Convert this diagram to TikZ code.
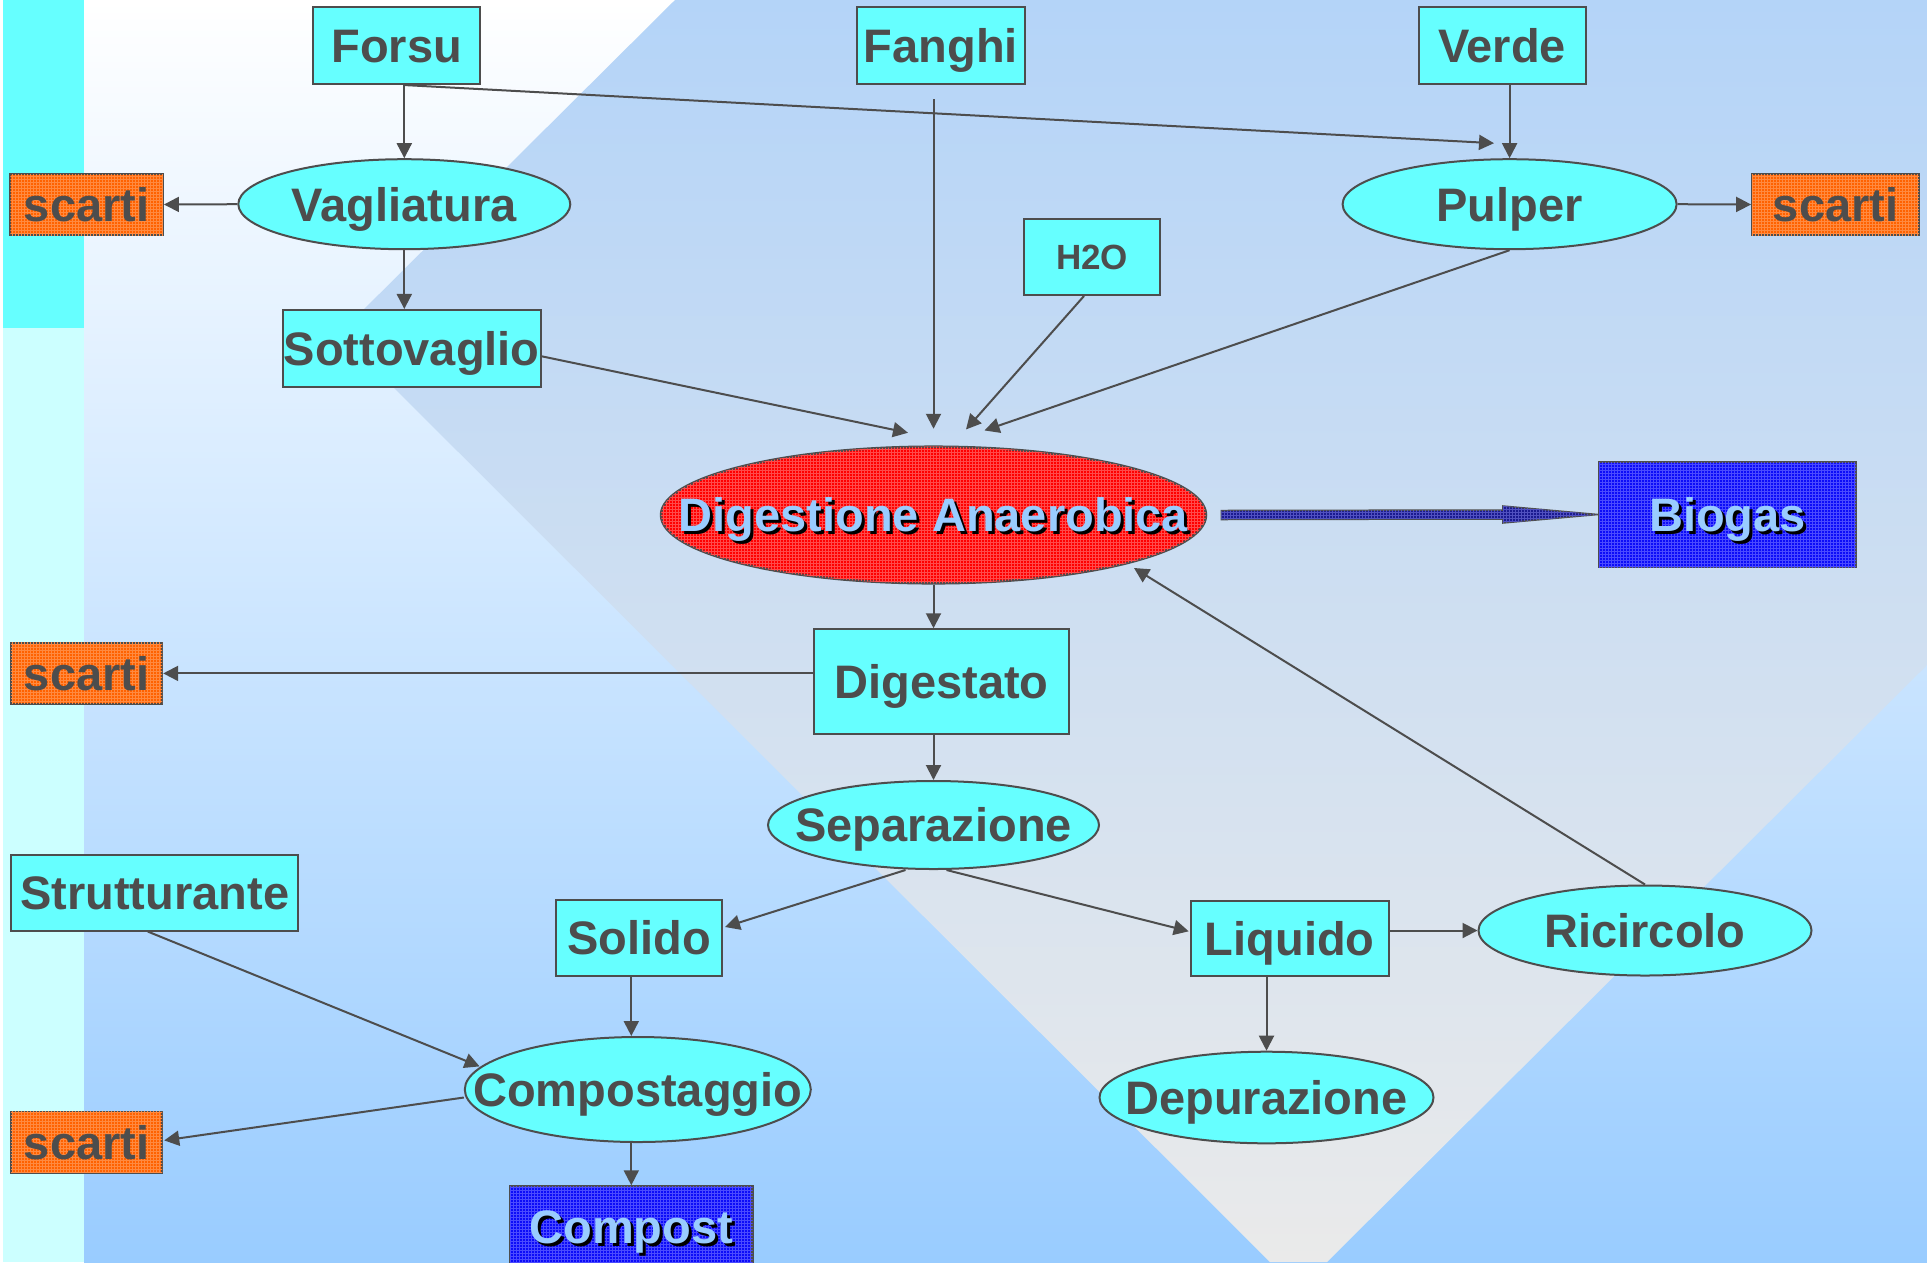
\documentclass[tikz,border=0pt]{standalone}
\usepackage{fontspec}
\setmainfont{Liberation Sans}
\usetikzlibrary{arrows.meta,shapes.geometric,calc,patterns}

\definecolor{ink}{HTML}{4D4D4D}
\definecolor{aqua}{HTML}{66FFFF}
\definecolor{paleaqua}{HTML}{CCFFFF}
\definecolor{skyblue}{HTML}{99CCFF}
\definecolor{bandtop}{HTML}{B4D4F8}
\definecolor{bandbot}{HTML}{EAEAEA}
\definecolor{wasteorange}{HTML}{FF6200}
\definecolor{wastegrain}{HTML}{FF8A40}
\definecolor{digred}{HTML}{FF0000}
\definecolor{redgrain}{HTML}{FF4A4A}
\definecolor{prodblue}{HTML}{0C0CF8}
\definecolor{bluegrain}{HTML}{4A4AFF}
\definecolor{shaftblue}{HTML}{1A1A90}
\definecolor{shaftgrain}{HTML}{5050C0}
\definecolor{labelblue}{HTML}{99CCFF}

% zero-width label so the text never enlarges its shape
\newcommand{\lbl}[1]{\makebox[0pt]{#1}}
% light label with a dark drop shadow
\newcommand{\glow}[1]{\makebox[0pt]{\makebox[0pt][l]{\hspace{3pt}\raisebox{-3pt}{\color{black}#1}}\color{labelblue}#1}}

\tikzset{
  base/.style={draw=ink, line width=2pt, inner sep=0pt, text=ink,
    font=\fontsize{47}{56}\selectfont\bfseries, text height=33.7pt, text depth=0pt},
  box/.style={base, rectangle, fill=aqua},
  oval/.style={base, ellipse, fill=aqua},
  grain/.style={postaction={pattern=grid, pattern color=#1}},
  waste/.style={base, rectangle, fill=wasteorange, grain=wastegrain, minimum height=61pt},
  product/.style={base, rectangle, fill=prodblue, grain=bluegrain, line width=2.5pt},
  flow/.style={draw=ink, line width=2pt, -{Triangle[length=15pt,width=15pt]}},
}

\begin{document}
\begin{tikzpicture}[x=1pt, y=-1pt]
\useasboundingbox (0,0) rectangle (1927,1262);

% ---- background ----
\fill[white] (0,0) rectangle (1927,1262);
\shade[top color=white, bottom color=skyblue] (84,0) rectangle (1927,1262);
\shade[top color=bandtop, bottom color=bandbot]
  (675,0) -- (1927,0) -- (1927,665) -- (1327,1262) -- (1270,1262) -- (339.5,333.5) -- cycle;
\fill[aqua] (3,0) rectangle (84,328);
\fill[paleaqua] (3,328) rectangle (84,1262);

% ---- inputs ----
\node[box, minimum width=166.5pt, minimum height=76.7pt] (forsu)  at (396.6,45.7) {\lbl{Forsu}};
\node[box, minimum width=168pt,   minimum height=76.7pt] (fanghi) at (941,45.7)   {\lbl{Fanghi}};
\node[box, minimum width=167pt,   minimum height=76.7pt] (verde)  at (1502,45.7)  {\lbl{Verde}};
\node[box, minimum width=136pt, minimum height=76pt,
      font=\fontsize{35}{42}\selectfont\bfseries, text height=25.1pt] (h2o) at (1092,257) {\lbl{H2O}};

% ---- pre-treatment ----
\node[oval, minimum width=332pt, minimum height=90pt] (vagl)   at (404.3,204.2)  {\lbl{Vagliatura}};
\node[oval, minimum width=334pt, minimum height=90pt] (pulper) at (1509.6,204.2) {\lbl{Pulper}};
\node[waste, minimum width=152.7pt] (s1) at (86.6,204.5)   {\lbl{scarti}};
\node[waste, minimum width=167pt]   (s2) at (1835.6,204.5) {\lbl{scarti}};
\node[box, minimum width=258pt, minimum height=76.7pt] (sotto) at (411.7,348.3) {\lbl{Sottovaglio}};

% ---- digestion ----
\node[base, ellipse, fill=digred, grain=redgrain, line width=2.5pt, minimum width=545pt, minimum height=136.6pt]
  (dig) at (933.5,515) {\glow{Digestione Anaerobica}};
\node[product, minimum width=257pt, minimum height=105pt] (biogas) at (1727.5,514.5) {\glow{Biogas}};
\node[box, minimum width=255.6pt, minimum height=104.5pt] (digestato) at (941.5,681.5) {\lbl{Digestato}};
\node[waste, minimum width=151pt] (s3) at (86.7,673.4) {\lbl{scarti}};
\node[oval, minimum width=331pt, minimum height=88pt] (separ) at (933.5,825) {\lbl{Separazione}};

% ---- solid line ----
\node[box, minimum width=287pt, minimum height=75.5pt] (strutt) at (154.8,892.8) {\lbl{Strutturante}};
\node[box, minimum width=166pt, minimum height=75.5pt] (solido) at (639,938) {\lbl{Solido}};
\node[oval, minimum width=346pt, minimum height=105pt] (compostaggio) at (637.8,1089.5) {\lbl{Compostaggio}};
\node[waste, minimum width=151pt] (s4) at (86.7,1142.4) {\lbl{scarti}};
\node[product, minimum width=242.6pt, minimum height=81pt] (compost) at (631.3,1227) {\glow{Compost}};

% ---- liquid line ----
\node[box, minimum width=198pt, minimum height=75.5pt] (liquido) at (1289.7,938.3) {\lbl{Liquido}};
\node[oval, minimum width=333pt, minimum height=90pt] (ricircolo) at (1645,930.5) {\lbl{Ricircolo}};
\node[oval, minimum width=334pt, minimum height=91.6pt] (depur) at (1266.5,1097.5) {\lbl{Depurazione}};

% ---- arrow ends that stop short of their targets ----
\coordinate (tipFP) at ($(pulper.north)+(-15.6,-15)$);
\coordinate (tipS)  at ($(dig.north)+(-25.5,-12.7)$);
\coordinate (tipH)  at ($(dig.north)+(32.5,-16)$);
\coordinate (tipP)  at ($(dig.north)+(51,-15)$);
\coordinate (tipR)  at ($(dig.center)+(200.5,53)$);
\coordinate (tipSo) at ($(solido.east)+(2,-11)$);
\coordinate (tipL)  at ($(liquido.west)+(-1,-7)$);
\coordinate (tipC)  at ($(compostaggio.center)+(-158.2,-23.1)$);
\coordinate (tipW)  at ($(s4.east)+(1,-2)$);

% ---- connectors ----
\draw[flow] (vagl.north |- forsu.south) -- (vagl.north);
\draw[flow] (vagl.north |- forsu.south) -- (tipFP);
\draw[flow] (vagl.west) -- (s1.east);
\draw[flow] (vagl.south) -- (vagl.south |- sotto.north);
\draw[flow] (pulper.north |- verde.south) -- (pulper.north);
\draw[flow] (pulper.east) -- (s2.west);
\draw[flow, shorten <=14pt, shorten >=16.7pt] (dig.north |- fanghi.south) -- (dig.north);
\draw[flow] ($(h2o.south)+(-8,0)$) -- (tipH);
\draw[flow] (pulper.south) -- (tipP);
\draw[flow] ($(sotto.east)+(0,8)$) -- (tipS);
\draw[flow] (dig.south) -- (dig.south |- digestato.north);
\draw[flow] (digestato.west |- s3.east) -- (s3.east);
\draw[flow] (separ.north |- digestato.south) -- (separ.north);
\draw[flow] ($(separ.south)+(-28,0)$) -- (tipSo);
\draw[flow] ($(separ.south)+(13,0)$) -- (tipL);
\draw[flow] (liquido.east |- ricircolo.west) -- (ricircolo.west);
\draw[flow] (depur.north |- liquido.south) -- (depur.north);
\draw[flow] (ricircolo.north) -- (tipR);
\draw[flow] ($(strutt.south)+(-7,0)$) -- (tipC);
\draw[flow] (compost.north |- solido.south) -- (compost.north |- compostaggio.north);
\draw[flow] ($(compostaggio.west)+(0,8)$) -- (tipW);
\draw[flow] (compost.north |- compostaggio.south) -- (compost.north);

% ---- biogas output: broad arrow ----
\coordinate (ta) at ($(dig.east)+(14,0)$);
\filldraw[fill=shaftblue, draw=ink, line width=1.5pt, grain=shaftgrain]
  ($(ta)+(0,-4.5)$) -- ($(biogas.west)+(-95,-4.5)$) -- ($(biogas.west)+(-95,-8.5)$)
  -- (biogas.west) -- ($(biogas.west)+(-95,8.5)$) -- ($(biogas.west)+(-95,4.5)$)
  -- ($(ta)+(0,4.5)$) -- cycle;
\end{tikzpicture}
\end{document}
